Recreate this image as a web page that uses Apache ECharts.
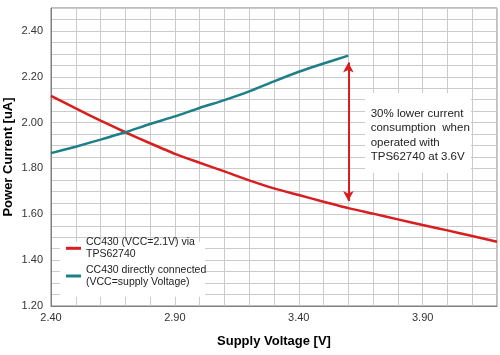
<!DOCTYPE html>
<html>
<head>
<meta charset="utf-8">
<script src="https://cdn.jsdelivr.net/npm/echarts@6/dist/echarts.min.js"></script>
<style>html,body{margin:0;padding:0;background:#fff;}#c{width:500px;height:355px;}</style>
</head>
<body>
<div id="c"></div>
<script>
var voltsRed = [2.4,2.5,2.6,2.7,2.8,2.9,3.0,3.1,3.2,3.3,3.4,3.5,3.6,3.7,3.8,3.9,4.0,4.1,4.2];
var currentTPS = [2.117,2.062,2.009,1.958,1.910,1.864,1.825,1.787,1.748,1.713,1.684,1.655,1.627,1.603,1.578,1.553,1.530,1.505,1.480];
var voltsTeal = [2.4,2.5,2.6,2.7,2.8,2.9,3.0,3.1,3.2,3.3,3.4,3.5,3.6];
var currentDirect = [1.867,1.895,1.926,1.958,1.994,2.027,2.064,2.098,2.136,2.180,2.222,2.258,2.292];
var seriesNames = ['CC430 (VCC=2.1V) via\nTPS62740', 'CC430 directly connected\n(VCC=supply Voltage)'];
var arrowX = 3.6, arrowTop = 2.262, arrowBottom = 1.658;
var noteText = '30% lower current\nconsumption  when\noperated with\nTPS62740 at 3.6V';
var xTitle = 'Supply Voltage [V]', yTitle = 'Power Current [uA]';

var FONT = 'Arial, "Liberation Sans", sans-serif';
var RED = '#d81e1e', TEAL = '#1d7f87';
function pairs(xs, ys){ return xs.map(function(x,i){ return [x, ys[i]]; }); }

var chart = echarts.init(document.getElementById('c'), null, {renderer:'canvas'});
chart.setOption({
  animation: false,
  backgroundColor: '#fff',
  textStyle: {fontFamily: FONT},
  grid: {left: 51, right: 3, top: 8, bottom: 49, show: true, borderColor: '#7f7f7f', borderWidth: 1,
         containLabel: false, outerBoundsMode: 'none'},
  xAxis: {
    type: 'value', min: 2.4, max: 4.2, interval: 0.1,
    name: xTitle, nameLocation: 'middle', nameGap: 29, nameMoveOverlap: false,
    nameTextStyle: {fontFamily: FONT, fontSize: 13, fontWeight: 'bold', color: '#000'},
    axisLine: {show: true, lineStyle: {color: '#7f7f7f', width: 1}},
    axisTick: {show: false},
    splitLine: {show: true, lineStyle: {color: '#cbcbcb', width: 1}},
    axisLabel: {fontFamily: FONT, fontSize: 11, color: '#333', margin: 6,
      formatter: function(v){ return (Math.round(v*10) % 5 === 4) ? v.toFixed(2) : ''; }}
  },
  yAxis: {
    type: 'value', min: 1.2, max: 2.5, interval: 0.05,
    name: yTitle, nameLocation: 'middle', nameGap: 36, nameMoveOverlap: false,
    nameTextStyle: {fontFamily: FONT, fontSize: 13, fontWeight: 'bold', color: '#000'},
    axisLine: {show: true, lineStyle: {color: '#7f7f7f', width: 1}},
    axisTick: {show: false},
    splitLine: {show: true, lineStyle: {color: '#cbcbcb', width: 1}},
    axisLabel: {fontFamily: FONT, fontSize: 11, color: '#333', margin: 8,
      formatter: function(v){ return (Math.round(v*100) % 20 === 0) ? v.toFixed(2) : ''; }}
  },
  legend: [
    {data: [seriesNames[0]], left: 66, top: 230.3, orient: 'vertical', padding: 0,
     icon: 'rect', itemWidth: 15, itemHeight: 3, selectedMode: false,
     textStyle: {fontFamily: FONT, fontSize: 10.5, color: '#222', lineHeight: 12, padding: [12,0,0,0]}},
    {data: [seriesNames[1]], left: 66, top: 258, orient: 'vertical', padding: 0,
     icon: 'rect', itemWidth: 15, itemHeight: 3, selectedMode: false,
     textStyle: {fontFamily: FONT, fontSize: 10.5, color: '#222', lineHeight: 12, padding: [12,0,0,0]}}
  ],
  graphic: [
    {type: 'rect', left: 60, top: 241.7, shape: {width: 145, height: 55}, style: {fill: '#fff'}, z: 3},
    {type: 'rect', left: 365, top: 93, shape: {width: 106, height: 80}, style: {fill: '#fff'}, z: 3},
    {type: 'text', left: 370.7, top: 107, z: 4,
     style: {text: noteText, font: '11.5px ' + FONT, fill: '#222', lineHeight: 14.2}}
  ],
  series: [
    {name: seriesNames[0], type: 'line', data: pairs(voltsRed, currentTPS), showSymbol: false,
     smooth: 0.2, lineStyle: {color: RED, width: 2.5}, itemStyle: {color: RED}, z: 5,
     markLine: {silent: true, symbol: ['arrow','arrow'], symbolSize: [8,10],
       lineStyle: {color: RED, width: 2, type: 'solid'}, label: {show: false},
       data: [[{coord: [arrowX, arrowTop]}, {coord: [arrowX, arrowBottom]}]]}},
    {name: seriesNames[1], type: 'line', data: pairs(voltsTeal, currentDirect), showSymbol: false,
     smooth: 0.2, lineStyle: {color: TEAL, width: 2.5}, itemStyle: {color: TEAL}, z: 5}
  ]
});
</script>
</body>
</html>
